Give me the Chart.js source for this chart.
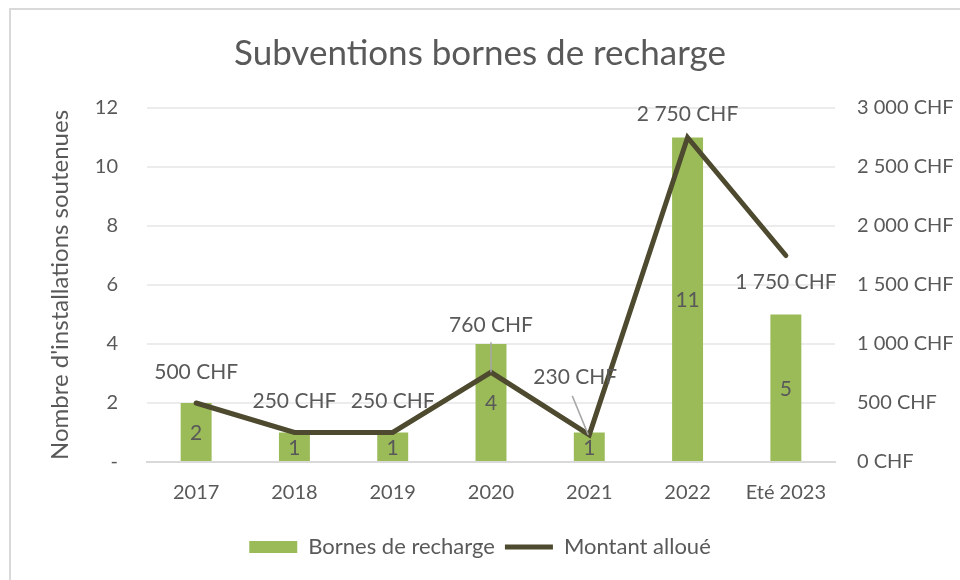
<!DOCTYPE html>
<html>
<head>
<meta charset="utf-8">
<script src="https://cdn.jsdelivr.net/npm/chart.js@4.4.1/dist/chart.umd.min.js"></script>
<style>
  html, body { margin: 0; padding: 0; background: #ffffff; }
  #wrap { width: 960px; height: 580px; position: relative; }
</style>
</head>
<body>
<div id="wrap"><canvas id="c" width="960" height="580"></canvas></div>
<script>
const categories = ["2017", "2018", "2019", "2020", "2021", "2022", "Eté 2023"];
const bornes = [2, 1, 1, 4, 1, 11, 5];
const montant = [500, 250, 250, 760, 230, 2750, 1750];
const leftTicks = [0, 2, 4, 6, 8, 10, 12];
const rightTicks = [0, 500, 1000, 1500, 2000, 2500, 3000];

const FONT = "Lato";
const TXT = "#595959";

function chf(v) {
  const s = String(Math.round(v)).replace(/\B(?=(\d{3})+(?!\d))/g, " ");
  return s + " CHF";
}

// label placement (styling only): offsets from point, and optional leader line
const lineLabelOffsets = [
  { dx: 0, dy: -31 },
  { dx: 0, dy: -31 },
  { dx: 0, dy: -31 },
  { dx: 0, dy: -47, leader: true },
  { dx: -14, dy: -58, leader: true },
  { dx: 0, dy: -23 },
  { dx: 0, dy: 27 }
];

const decorPlugin = {
  id: 'decor',
  beforeDraw(chart) {
    const ctx = chart.ctx;
    ctx.save();
    ctx.fillStyle = "#ffffff";
    ctx.fillRect(0, 0, chart.width, chart.height);
    ctx.strokeStyle = "#d9d9d9";
    ctx.lineWidth = 2;
    ctx.strokeRect(10, 9, 1200, 1200);
    ctx.restore();
  },
  afterDatasetsDraw(chart) {
    const ctx = chart.ctx;
    ctx.save();
    ctx.font = "21px " + FONT;
    ctx.fillStyle = TXT;
    ctx.textAlign = "center";
    ctx.textBaseline = "middle";
    const barMeta = chart.getDatasetMeta(0);
    barMeta.data.forEach((el, i) => {
      const y = (el.y + el.base) / 2;
      ctx.fillText(String(bornes[i]), el.x, y + 1);
    });
    const lineMeta = chart.getDatasetMeta(1);
    lineMeta.data.forEach((el, i) => {
      const o = lineLabelOffsets[i];
      const lx = el.x + o.dx, ly = el.y + o.dy;
      if (o.leader) {
        ctx.strokeStyle = "#a6a6a6";
        ctx.lineWidth = 1.5;
        ctx.beginPath();
        if (o.dx === 0) {
          ctx.moveTo(el.x, ly + 17);
          ctx.lineTo(el.x, el.y);
        } else {
          ctx.moveTo(lx - 3, ly + 19);
          ctx.lineTo(el.x - 1, el.y);
        }
        ctx.stroke();
      }
      ctx.fillStyle = TXT;
      ctx.fillText(chf(montant[i]), lx, ly);
    });
    ctx.restore();
  }
};

new Chart(document.getElementById('c'), {
  data: {
    labels: categories,
    datasets: [
      {
        type: 'bar',
        label: 'Bornes de recharge',
        data: bornes,
        backgroundColor: '#9bbb59',
        borderWidth: 0,
        yAxisID: 'y',
        barPercentage: 0.63,
        categoryPercentage: 0.5,
        pointStyle: 'rect',
        order: 2
      },
      {
        type: 'line',
        label: 'Montant alloué',
        data: montant,
        borderColor: '#4d4a2f',
        backgroundColor: '#4d4a2f',
        borderWidth: 5,
        pointRadius: 0,
        tension: 0,
        yAxisID: 'y1',
        pointStyle: 'line',
        borderCapStyle: 'round',
        borderJoinStyle: 'miter',
        order: 1
      }
    ]
  },
  options: {
    responsive: false,
    animation: false,
    layout: { padding: { left: 0, right: 0, top: 0, bottom: 12 } },
    plugins: {
      title: {
        display: true,
        text: 'Subventions bornes de recharge',
        color: TXT,
        font: { family: FONT, size: 35, weight: 'normal' },
        padding: { top: 33, bottom: 33 }
      },
      legend: {
        position: 'bottom',
        labels: {
          usePointStyle: true,
          pointStyleWidth: 48,
          boxHeight: 12,
          color: TXT,
          font: { family: FONT, size: 22 },
          padding: 10,
          sort: (a, b) => a.datasetIndex - b.datasetIndex
        }
      },
      tooltip: { enabled: false }
    },
    scales: {
      x: {
        grid: { display: false, drawTicks: false },
        border: { display: true, color: '#d9d9d9', width: 2 },
        ticks: { color: TXT, font: { family: FONT, size: 20 }, padding: 19, maxRotation: 0 },
        afterFit(s) { s.height = 64; }
      },
      y: {
        position: 'left',
        min: 0, max: 12,
        afterBuildTicks(s) { s.ticks = leftTicks.map(v => ({ value: v })); },
        grid: { color: '#ececec', lineWidth: 2, drawTicks: false },
        border: { display: false },
        ticks: {
          color: TXT, font: { family: FONT, size: 20 }, padding: 29,
          callback: v => (v === 0 ? '-' : String(v))
        },
        title: {
          display: true,
          text: "Nombre d'installations soutenues",
          color: TXT,
          font: { family: FONT, size: 24 },
          padding: { top: 46, bottom: 0 }
        },
        afterFit(s) { s.width = 147; }
      },
      y1: {
        position: 'right',
        min: 0, max: 3000,
        afterBuildTicks(s) { s.ticks = rightTicks.map(v => ({ value: v })); },
        grid: { display: false, drawTicks: false },
        border: { display: false },
        ticks: {
          color: TXT, font: { family: FONT, size: 20 }, padding: 22,
          callback: v => chf(v)
        },
        afterFit(s) { s.width = 125; }
      }
    }
  },
  plugins: [decorPlugin]
});
</script>
</body>
</html>
